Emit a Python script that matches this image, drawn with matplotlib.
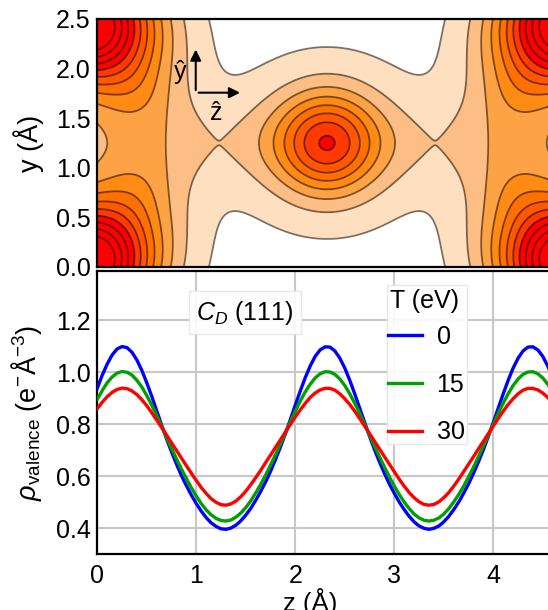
# ==============================
# Valence charge density of C_D (111): map + line profiles
# ==============================

import numpy as np
import matplotlib
matplotlib.use("Agg")
import matplotlib.pyplot as plt
from matplotlib.patches import Rectangle

plt.rcParams["font.family"] = ["Liberation Sans", "DejaVu Sans"]
plt.rcParams["mathtext.fontset"] = "custom"
plt.rcParams["mathtext.rm"] = "Liberation Sans"
plt.rcParams["mathtext.it"] = "Liberation Sans:italic"

# ------------------------------
# 1. Line profiles (lower panel), read every 0.05 A
# ------------------------------
z_line = np.linspace(0, 4.6, 93)

rho_T0 = [0.939, 0.989, 1.032, 1.067, 1.090, 1.099, 1.095, 1.077, 1.047, 1.007,
          0.959, 0.907, 0.851, 0.796, 0.743, 0.693, 0.646, 0.602, 0.563, 0.527,
          0.494, 0.465, 0.440, 0.420, 0.406, 0.397, 0.395, 0.400, 0.411, 0.428,
          0.450, 0.476, 0.507, 0.541, 0.578, 0.619, 0.664, 0.712, 0.764, 0.818,
          0.874, 0.928, 0.979, 1.024, 1.061, 1.086, 1.098, 1.097, 1.082, 1.054,
          1.016, 0.969, 0.917, 0.862, 0.807, 0.753, 0.702, 0.655, 0.611, 0.570,
          0.534, 0.500, 0.471, 0.445, 0.424, 0.408, 0.399, 0.395, 0.399, 0.408,
          0.424, 0.445, 0.471, 0.500, 0.534, 0.570, 0.611, 0.655, 0.702, 0.753,
          0.807, 0.862, 0.917, 0.969, 1.016, 1.054, 1.082, 1.097, 1.098, 1.086,
          1.061, 1.024, 0.979]

rho_T15 = [0.896, 0.930, 0.960, 0.982, 0.997, 1.003, 1.000, 0.989, 0.969, 0.943,
           0.910, 0.873, 0.833, 0.792, 0.749, 0.707, 0.666, 0.627, 0.590, 0.555,
           0.523, 0.494, 0.470, 0.451, 0.437, 0.429, 0.427, 0.431, 0.442, 0.458,
           0.479, 0.505, 0.535, 0.568, 0.604, 0.643, 0.683, 0.724, 0.766, 0.809,
           0.850, 0.889, 0.924, 0.954, 0.978, 0.994, 1.002, 1.001, 0.992, 0.974,
           0.949, 0.917, 0.881, 0.842, 0.800, 0.758, 0.716, 0.675, 0.635, 0.597,
           0.561, 0.529, 0.500, 0.475, 0.454, 0.439, 0.430, 0.427, 0.430, 0.439,
           0.454, 0.475, 0.500, 0.529, 0.561, 0.597, 0.635, 0.675, 0.716, 0.758,
           0.800, 0.842, 0.881, 0.917, 0.949, 0.974, 0.992, 1.001, 1.002, 0.994,
           0.978, 0.954, 0.924]

rho_T30 = [0.860, 0.885, 0.906, 0.923, 0.934, 0.939, 0.937, 0.928, 0.914, 0.894,
           0.871, 0.844, 0.816, 0.787, 0.758, 0.728, 0.699, 0.669, 0.640, 0.611,
           0.583, 0.556, 0.533, 0.513, 0.499, 0.490, 0.488, 0.493, 0.504, 0.521,
           0.542, 0.567, 0.594, 0.622, 0.652, 0.681, 0.711, 0.740, 0.770, 0.799,
           0.828, 0.855, 0.880, 0.903, 0.920, 0.932, 0.938, 0.938, 0.931, 0.917,
           0.898, 0.876, 0.850, 0.822, 0.793, 0.764, 0.734, 0.705, 0.675, 0.646,
           0.617, 0.588, 0.561, 0.537, 0.517, 0.501, 0.491, 0.488, 0.491, 0.501,
           0.517, 0.537, 0.561, 0.588, 0.617, 0.646, 0.675, 0.705, 0.734, 0.764,
           0.793, 0.822, 0.850, 0.876, 0.898, 0.917, 0.931, 0.938, 0.938, 0.932,
           0.920, 0.903, 0.880]

temps = ["0", "15", "30"]
line_colors = ["#0000ff", "#00a000", "#ff0000"]

# ------------------------------
# 2. Density map (upper panel): blobs
# ------------------------------
zc, yc = 2.32, 1.25          # mirror centre of the map
offset = 0.40

# centre bond: core, halo, horizontal band
cen_amp = [4.65, 2.0, 0.90]
cen_sz = [0.33, 0.6, 1.6]
cen_sy = [0.343, 0.5, 0.3]

# vertical ridge (left one, mirrored in z)
rid_z = [0.40]
rid_amp = [1.9]
rid_sz = [0.485]
rid_sy = [0.85]

# corner lobe + shoulder (bottom-left one, mirrored in z and y)
lob_z = [-0.10, 0.42]
lob_y = [0.05, 0.75]
lob_amp = [12.0, 0.7]
lob_sz = [0.45, 0.2]
lob_sy = [0.42, 0.25]

levels = [0, 1, 2, 3, 4, 5, 6, 7, 8, 9, 10]
band_colors = ["#ffffff", "#fedfc0", "#fdbe85", "#fda245", "#ff8a14", "#ff7000",
               "#ff5800", "#ff3a00", "#ff0000", "#ff0000", "#ff0000", "#ff0000"]

zz, yy = np.meshgrid(np.linspace(0, 4.6, 461), np.linspace(0, 2.5, 251))


def blob(z0, y0, a, sz, sy, pz=2.0, py=2.0):
    return a * np.exp(-0.5 * np.abs((zz - z0) / sz) ** pz - 0.5 * np.abs((yy - y0) / sy) ** py)


rho = np.zeros_like(zz) - offset
for a, sz, sy in zip(cen_amp, cen_sz, cen_sy):
    rho += blob(zc, yc, a, sz, sy)
for z0, a, sz, sy in zip(rid_z, rid_amp, rid_sz, rid_sy):
    for zm in (z0, 2 * zc - z0):
        rho += blob(zm, yc, a, sz, sy, 2.5, 3.0)
for z0, y0, a, sz, sy in zip(lob_z, lob_y, lob_amp, lob_sz, lob_sy):
    for zm in (z0, 2 * zc - z0):
        for ym in (y0, 2 * yc - y0):
            rho += blob(zm, ym, a, sz, sy)

# ------------------------------
# 3. Figure
# ------------------------------
fig = plt.figure(figsize=(5.48, 6.10), dpi=100)
ax1 = fig.add_axes([0.1776, 0.5623, 0.8310, 0.4066])
ax2 = fig.add_axes([0.1776, 0.0918, 0.8310, 0.4639])

# upper panel
ax1.contourf(zz, yy, rho, levels=[-100] + levels + [100], colors=band_colors)
ax1.contour(zz, yy, rho, levels=levels, colors="k", alpha=0.5, linewidths=1.3)
ax1.set_xlim(0, 4.6)
ax1.set_ylim(0, 2.5)
ax1.set_xticks([])
ax1.set_yticks([0, 0.5, 1.0, 1.5, 2.0, 2.5])
ax1.set_yticklabels(["0.0", "0.5", "1.0", "1.5", "2.0", "2.5"])
ax1.set_ylabel("y (Å)", fontsize=19.5)
ax1.yaxis.set_label_coords(-0.118, 0.5)
ax1.tick_params(length=0, labelsize=18, pad=5)
for s in ax1.spines.values():
    s.set_linewidth(1.6)

ax1.annotate("", xy=(0.994, 2.22), xytext=(0.994, 1.755),
             arrowprops=dict(arrowstyle="-|>", color="k", lw=1.5, mutation_scale=16))
ax1.annotate("", xy=(1.47, 1.757), xytext=(0.994, 1.757),
             arrowprops=dict(arrowstyle="-|>", color="k", lw=1.5, mutation_scale=16))
ax1.text(0.838, 1.966, "ŷ", fontsize=18, ha="center", va="center")
ax1.text(1.2, 1.55, "ẑ", fontsize=18, ha="center", va="center")

# lower panel
for t, vals, c in zip(temps, [rho_T0, rho_T15, rho_T30], line_colors):
    ax2.plot(z_line, vals, color=c, lw=2.4, label=t, zorder=3)
ax2.set_xlim(0, 4.6)
ax2.set_ylim(0.3, 1.39)
ax2.set_xticks([0, 1, 2, 3, 4])
ax2.set_yticks([0.4, 0.6, 0.8, 1.0, 1.2])
ax2.set_yticklabels(["0.4", "0.6", "0.8", "1.0", "1.2"])
ax2.grid(True, color="#c8c8c8", lw=1.5)
ax2.set_axisbelow(True)
ax2.tick_params(length=0, labelsize=18, pad=5)
ax2.tick_params(axis="x", pad=7)
for s in ax2.spines.values():
    s.set_linewidth(1.6)
ax2.set_ylabel(r"$\rho_{\mathrm{valence}}$ (e$^{-}$Å$^{-3}$)", fontsize=19.5)
ax2.yaxis.set_label_coords(-0.118, 0.5)
ax2.set_xlabel("z (Å)", fontsize=18.5)
ax2.xaxis.set_label_coords(0.467, -0.12)

ax2.text(0.324, 0.852, r"$C_D$ (111)", transform=ax2.transAxes, fontsize=18,
         ha="center", va="center",
         bbox=dict(boxstyle="square,pad=0.3", fc="white", ec="#e6e6e6", alpha=0.9))

# legend: frame + title drawn by hand so the title sits close to the entries
ax2.add_patch(Rectangle((0.636, 0.389), 0.176, 0.562, transform=ax2.transAxes,
                        fc="white", ec="#e6e6e6", lw=1.0, alpha=0.9, zorder=2.5))
ax2.text(0.643, 0.894, "T (eV)", transform=ax2.transAxes, fontsize=18,
         ha="left", va="center", zorder=6)
ax2.legend(loc="upper left", bbox_to_anchor=(0.638, 0.810), borderaxespad=0,
           borderpad=0, fontsize=18, handlelength=1.35, labelspacing=0.95,
           handletextpad=0.6, frameon=False)

fig.savefig("out.png", dpi=100)
